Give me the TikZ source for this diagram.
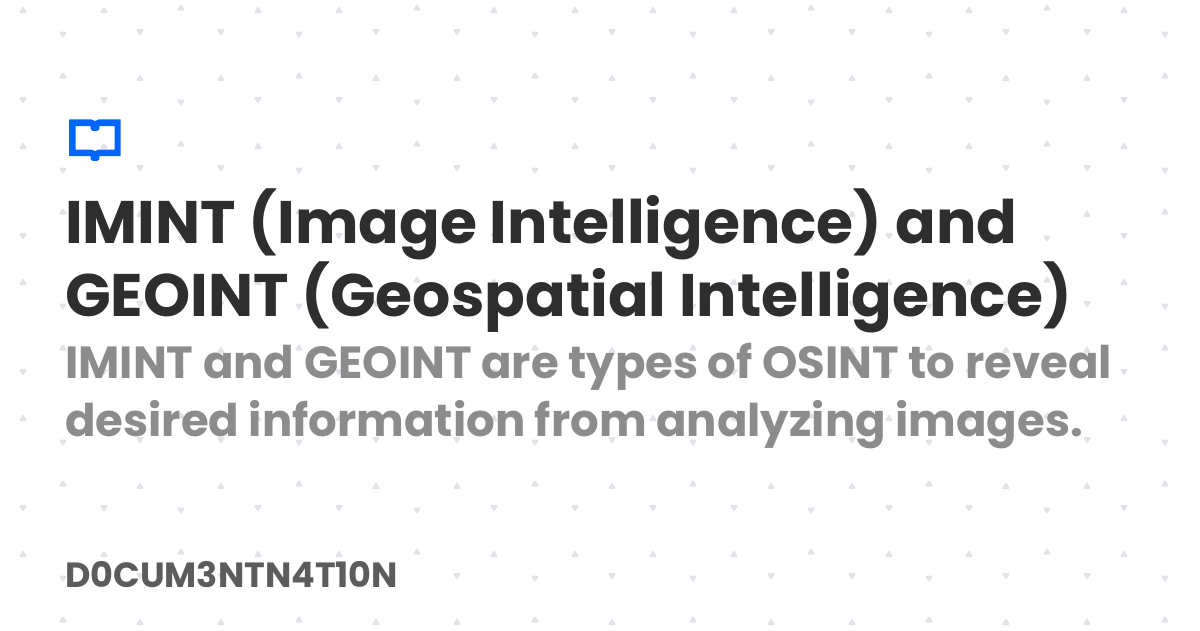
\documentclass[tikz,border=0pt]{standalone}
\usepackage{fontspec}
\setmainfont{Poppins}[BoldFont={* Bold}]
\definecolor{dotgrey}{HTML}{E0E4E8}
\definecolor{iconblue}{HTML}{0066FF}
\definecolor{titleink}{HTML}{2E2E2E}
\definecolor{subink}{HTML}{8C8C8C}
\definecolor{footink}{HTML}{5C5C5C}
\tikzset{
  uptri/.pic={\fill[dotgrey,draw=dotgrey,line width=2pt,line join=round] (-2.4,2.0) -- (2.4,2.0) -- (0,-2.0) -- cycle;},
  dntri/.pic={\fill[dotgrey,draw=dotgrey,line width=2pt,line join=round] (-2.4,-2.0) -- (2.4,-2.0) -- (0,2.0) -- cycle;},
  titletext/.style={anchor=base west,inner sep=0pt,text=titleink,font=\fontsize{60}{72}\selectfont\bfseries},
  subtext/.style={anchor=base west,inner sep=0pt,text=subink,font=\fontsize{45}{57}\selectfont\bfseries},
  foottext/.style={anchor=base west,inner sep=0pt,text=footink,font=\fontsize{35}{40}\selectfont\bfseries}
}
\begin{document}
\begin{tikzpicture}[x=1pt,y=-1pt]
\useasboundingbox (0,0) rectangle (1200,630);
\fill[white] (0,0) rectangle (1200,630);
% background pattern, family A
\foreach \px/\pj in {23/0,104/0,181/1,258/0,339/0,417/1,494/0,575/0,653/0,734/0,811/1,889/0,969/0,1047/1,1124/0}{
  \foreach \py in {10,146,282,418,554}{
    \pgfmathsetmacro{\yy}{\py-2.5*\pj}
    \pic at (\px,\yy) {uptri};
  }
  \foreach \py in {100,236,372,508}{
    \pgfmathsetmacro{\yy}{\py+2.5*\pj}
    \pic at (\px,\yy) {dntri};
  }
}
% background pattern, family B
\foreach \px/\pj in {63/1,140/0,221/0,299/1,376/0,457/0,535/1,612/0,693/1,771/0,852/0,929/1,1006/0,1087/0,1165/1}{
  \foreach \py in {32,168,304,440,576}{
    \pgfmathsetmacro{\yy}{\py+2.5*\pj}
    \pic at (\px,\yy) {dntri};
  }
  \foreach \py in {78,214,350,486,622}{
    \pgfmathsetmacro{\yy}{\py-2.5*\pj}
    \pic at (\px,\yy) {uptri};
  }
}
% book icon
\fill[iconblue,even odd rule,rounded corners=0.6pt]
  (69,119.3) -- (91,119.3) -- (95,121) -- (99,119.3) -- (120.7,119.3) -- (120.7,156) -- (99.3,156) -- (99.3,159.5) -- (97.5,160.8) -- (92.5,160.8) -- (90.7,159.5) -- (90.7,156) -- (69,156) -- cycle
  (75.5,126) -- (90.7,126) -- (90.7,129.5) -- (92.5,130.8) -- (97.5,130.8) -- (99.3,129.5) -- (99.3,126) -- (114.7,126) -- (114.7,149.7) -- (98,149.7) -- (95,151.2) -- (92,149.7) -- (75.5,149.7) -- cycle;
% text
\node[titletext] (title1) at (65,243) {IMINT (Image Intelligence) and};
\node[titletext] (title2) at (65,316) {GEOINT (Geospatial Intelligence)};
\node[subtext] (sub1) at (65,378.5) {IMINT and GEOINT are types of OSINT to reveal};
\node[subtext] (sub2) at (65,436) {desired information from analyzing images.};
\node[foottext] (foot) at (65,587) {D0CUM3NTN4T10N};
\end{tikzpicture}
\end{document}
